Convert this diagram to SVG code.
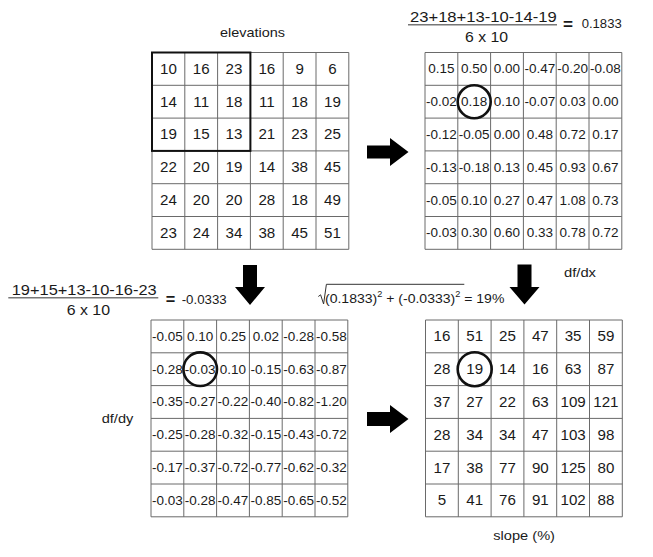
<svg xmlns="http://www.w3.org/2000/svg" xmlns:xlink="http://www.w3.org/1999/xlink" width="653" height="557" viewBox="0 0 653 557">
<style>
.gl{fill:none;stroke:#6a6a6a;stroke-width:1}
.bold{fill:none;stroke:#111;stroke-width:2}
.ring{fill:none;stroke:#111;stroke-width:2.6}
text{font-family:"Liberation Sans",Arial,sans-serif;fill:#1a1a1a}
.n{font-size:14px;text-anchor:middle}
.d{font-size:12.5px;text-anchor:middle}
.lbl{font-size:13px}
.f{font-size:14.5px}
.eq{font-size:16px;font-weight:bold}
.fl{stroke:#777;stroke-width:1.4}
.arrow{fill:#000}
.rad{fill:none;stroke:#333;stroke-width:1}
</style>
<defs>
<path id="grid" class="gl" d="M0 0H196.8V196.8H0Z M32.8 0V196.8 M65.6 0V196.8 M98.4 0V196.8 M131.2 0V196.8 M164 0V196.8 M0 32.8H196.8 M0 65.6H196.8 M0 98.4H196.8 M0 131.2H196.8 M0 164H196.8"/>
</defs>
<rect width="653" height="557" fill="#fff"/>

<g id="elevations">
<text class="lbl" x="220" y="37" textLength="65" lengthAdjust="spacingAndGlyphs">elevations</text>
<g transform="translate(152 52.5)">
<use xlink:href="#grid" href="#grid"/>
<rect class="bold" x="0" y="0" width="98.4" height="98.4"/>
<g transform="scale(1.08 1)">
<text class="n" x="15.19" y="21.4">10</text><text class="n" x="45.56" y="21.4">16</text><text class="n" x="75.93" y="21.4">23</text><text class="n" x="106.3" y="21.4">16</text><text class="n" x="136.67" y="21.4">9</text><text class="n" x="167.04" y="21.4">6</text>
<text class="n" x="15.19" y="54.2">14</text><text class="n" x="45.56" y="54.2">11</text><text class="n" x="75.93" y="54.2">18</text><text class="n" x="106.3" y="54.2">11</text><text class="n" x="136.67" y="54.2">18</text><text class="n" x="167.04" y="54.2">19</text>
<text class="n" x="15.19" y="87">19</text><text class="n" x="45.56" y="87">15</text><text class="n" x="75.93" y="87">13</text><text class="n" x="106.3" y="87">21</text><text class="n" x="136.67" y="87">23</text><text class="n" x="167.04" y="87">25</text>
<text class="n" x="15.19" y="119.8">22</text><text class="n" x="45.56" y="119.8">20</text><text class="n" x="75.93" y="119.8">19</text><text class="n" x="106.3" y="119.8">14</text><text class="n" x="136.67" y="119.8">38</text><text class="n" x="167.04" y="119.8">45</text>
<text class="n" x="15.19" y="152.6">24</text><text class="n" x="45.56" y="152.6">20</text><text class="n" x="75.93" y="152.6">20</text><text class="n" x="106.3" y="152.6">28</text><text class="n" x="136.67" y="152.6">18</text><text class="n" x="167.04" y="152.6">49</text>
<text class="n" x="15.19" y="185.4">23</text><text class="n" x="45.56" y="185.4">24</text><text class="n" x="75.93" y="185.4">34</text><text class="n" x="106.3" y="185.4">38</text><text class="n" x="136.67" y="185.4">45</text><text class="n" x="167.04" y="185.4">51</text>
</g>
</g>
</g>

<g id="formula-dx">
<text class="f" x="410" y="22.3" textLength="146.7" lengthAdjust="spacingAndGlyphs">23+18+13-10-14-19</text>
<line class="fl" x1="408" y1="24.8" x2="557" y2="24.8"/>
<text class="f" x="465" y="41.7" textLength="43" lengthAdjust="spacingAndGlyphs">6 x 10</text>
<text class="eq" x="563" y="29.6" textLength="10" lengthAdjust="spacingAndGlyphs">=</text>
<text class="lbl" x="581.7" y="27.7" textLength="40" lengthAdjust="spacingAndGlyphs">0.1833</text>
</g>

<g id="dfdx">
<text class="lbl" x="564" y="276.7" textLength="32" lengthAdjust="spacingAndGlyphs">df/dx</text>
<g transform="translate(425 52.5)">
<use xlink:href="#grid" href="#grid"/>
<circle class="ring" cx="49.2" cy="49.2" r="16.5"/>
<g transform="scale(1.08 1)">
<text class="d" x="15.19" y="20.9">0.15</text><text class="d" x="45.56" y="20.9">0.50</text><text class="d" x="75.93" y="20.9">0.00</text><text class="d" x="106.3" y="20.9">-0.47</text><text class="d" x="136.67" y="20.9">-0.20</text><text class="d" x="167.04" y="20.9">-0.08</text>
<text class="d" x="15.19" y="53.7">-0.02</text><text class="d" x="45.56" y="53.7">0.18</text><text class="d" x="75.93" y="53.7">0.10</text><text class="d" x="106.3" y="53.7">-0.07</text><text class="d" x="136.67" y="53.7">0.03</text><text class="d" x="167.04" y="53.7">0.00</text>
<text class="d" x="15.19" y="86.5">-0.12</text><text class="d" x="45.56" y="86.5">-0.05</text><text class="d" x="75.93" y="86.5">0.00</text><text class="d" x="106.3" y="86.5">0.48</text><text class="d" x="136.67" y="86.5">0.72</text><text class="d" x="167.04" y="86.5">0.17</text>
<text class="d" x="15.19" y="119.3">-0.13</text><text class="d" x="45.56" y="119.3">-0.18</text><text class="d" x="75.93" y="119.3">0.13</text><text class="d" x="106.3" y="119.3">0.45</text><text class="d" x="136.67" y="119.3">0.93</text><text class="d" x="167.04" y="119.3">0.67</text>
<text class="d" x="15.19" y="152.1">-0.05</text><text class="d" x="45.56" y="152.1">0.10</text><text class="d" x="75.93" y="152.1">0.27</text><text class="d" x="106.3" y="152.1">0.47</text><text class="d" x="136.67" y="152.1">1.08</text><text class="d" x="167.04" y="152.1">0.73</text>
<text class="d" x="15.19" y="184.9">-0.03</text><text class="d" x="45.56" y="184.9">0.30</text><text class="d" x="75.93" y="184.9">0.60</text><text class="d" x="106.3" y="184.9">0.33</text><text class="d" x="136.67" y="184.9">0.78</text><text class="d" x="167.04" y="184.9">0.72</text>
</g>
</g>
</g>

<g id="formula-dy">
<text class="f" x="11.7" y="294.5" textLength="145" lengthAdjust="spacingAndGlyphs">19+15+13-10-16-23</text>
<line class="fl" x1="8.3" y1="297.8" x2="158.3" y2="297.8"/>
<text class="f" x="66.7" y="315" textLength="43.3" lengthAdjust="spacingAndGlyphs">6 x 10</text>
<text class="eq" x="165.7" y="305.4" textLength="9.5" lengthAdjust="spacingAndGlyphs">=</text>
<text class="lbl" x="181.7" y="303.5" textLength="45" lengthAdjust="spacingAndGlyphs">-0.0333</text>
</g>

<g id="dfdy">
<text class="lbl" x="101.7" y="423.3" textLength="31.6" lengthAdjust="spacingAndGlyphs">df/dy</text>
<g transform="translate(151 320)">
<use xlink:href="#grid" href="#grid"/>
<circle class="ring" cx="49.2" cy="49.2" r="16.8"/>
<g transform="scale(1.08 1)">
<text class="d" x="15.19" y="20.9">-0.05</text><text class="d" x="45.56" y="20.9">0.10</text><text class="d" x="75.93" y="20.9">0.25</text><text class="d" x="106.3" y="20.9">0.02</text><text class="d" x="136.67" y="20.9">-0.28</text><text class="d" x="167.04" y="20.9">-0.58</text>
<text class="d" x="15.19" y="53.7">-0.28</text><text class="d" x="45.56" y="53.7">-0.03</text><text class="d" x="75.93" y="53.7">0.10</text><text class="d" x="106.3" y="53.7">-0.15</text><text class="d" x="136.67" y="53.7">-0.63</text><text class="d" x="167.04" y="53.7">-0.87</text>
<text class="d" x="15.19" y="86.5">-0.35</text><text class="d" x="45.56" y="86.5">-0.27</text><text class="d" x="75.93" y="86.5">-0.22</text><text class="d" x="106.3" y="86.5">-0.40</text><text class="d" x="136.67" y="86.5">-0.82</text><text class="d" x="167.04" y="86.5">-1.20</text>
<text class="d" x="15.19" y="119.3">-0.25</text><text class="d" x="45.56" y="119.3">-0.28</text><text class="d" x="75.93" y="119.3">-0.32</text><text class="d" x="106.3" y="119.3">-0.15</text><text class="d" x="136.67" y="119.3">-0.43</text><text class="d" x="167.04" y="119.3">-0.72</text>
<text class="d" x="15.19" y="152.1">-0.17</text><text class="d" x="45.56" y="152.1">-0.37</text><text class="d" x="75.93" y="152.1">-0.72</text><text class="d" x="106.3" y="152.1">-0.77</text><text class="d" x="136.67" y="152.1">-0.62</text><text class="d" x="167.04" y="152.1">-0.32</text>
<text class="d" x="15.19" y="184.9">-0.03</text><text class="d" x="45.56" y="184.9">-0.28</text><text class="d" x="75.93" y="184.9">-0.47</text><text class="d" x="106.3" y="184.9">-0.85</text><text class="d" x="136.67" y="184.9">-0.65</text><text class="d" x="167.04" y="184.9">-0.52</text>
</g>
</g>
</g>

<g id="formula-slope">
<path class="rad" d="M318.3 296.5 L320.6 294.8 L323.6 304 L326.4 284.3 H464.3"/>
<g transform="scale(1.08 1)">
<text class="lbl" x="300.9" y="302.7">(0.1833)<tspan font-size="8.5" dy="-5.5">2</tspan><tspan dy="5.5"> + (-0.0333)</tspan><tspan font-size="8.5" dy="-5.5">2</tspan><tspan dy="5.5"> = 19%</tspan></text>
</g>
</g>

<g id="slope">
<text class="lbl" x="493.3" y="540" textLength="61.7" lengthAdjust="spacingAndGlyphs">slope (%)</text>
<g transform="translate(425.5 320)">
<use xlink:href="#grid" href="#grid"/>
<circle class="ring" cx="49.2" cy="49.2" r="17"/>
<g transform="scale(1.08 1)">
<text class="n" x="15.19" y="21.4">16</text><text class="n" x="45.56" y="21.4">51</text><text class="n" x="75.93" y="21.4">25</text><text class="n" x="106.3" y="21.4">47</text><text class="n" x="136.67" y="21.4">35</text><text class="n" x="167.04" y="21.4">59</text>
<text class="n" x="15.19" y="54.2">28</text><text class="n" x="45.56" y="54.2">19</text><text class="n" x="75.93" y="54.2">14</text><text class="n" x="106.3" y="54.2">16</text><text class="n" x="136.67" y="54.2">63</text><text class="n" x="167.04" y="54.2">87</text>
<text class="n" x="15.19" y="87">37</text><text class="n" x="45.56" y="87">27</text><text class="n" x="75.93" y="87">22</text><text class="n" x="106.3" y="87">63</text><text class="n" x="136.67" y="87">109</text><text class="n" x="167.04" y="87">121</text>
<text class="n" x="15.19" y="119.8">28</text><text class="n" x="45.56" y="119.8">34</text><text class="n" x="75.93" y="119.8">34</text><text class="n" x="106.3" y="119.8">47</text><text class="n" x="136.67" y="119.8">103</text><text class="n" x="167.04" y="119.8">98</text>
<text class="n" x="15.19" y="152.6">17</text><text class="n" x="45.56" y="152.6">38</text><text class="n" x="75.93" y="152.6">77</text><text class="n" x="106.3" y="152.6">90</text><text class="n" x="136.67" y="152.6">125</text><text class="n" x="167.04" y="152.6">80</text>
<text class="n" x="15.19" y="185.4">5</text><text class="n" x="45.56" y="185.4">41</text><text class="n" x="75.93" y="185.4">76</text><text class="n" x="106.3" y="185.4">91</text><text class="n" x="136.67" y="185.4">102</text><text class="n" x="167.04" y="185.4">88</text>
</g>
</g>
</g>

<g id="connectors">
<polygon class="arrow" points="367,145.5 390,145.5 390,138 408.5,152 390,166 390,158.5 367,158.5"/>
<polygon class="arrow" points="367,412 390,412 390,405 408.5,419 390,433 390,426 367,426"/>
<polygon class="arrow" points="243,265 257,265 257,287 265,287 250,305 235,287 243,287"/>
<polygon class="arrow" points="517.5,264.5 531.5,264.5 531.5,287 539.5,287 524.5,304.5 509.5,287 517.5,287"/>
</g>
</svg>
